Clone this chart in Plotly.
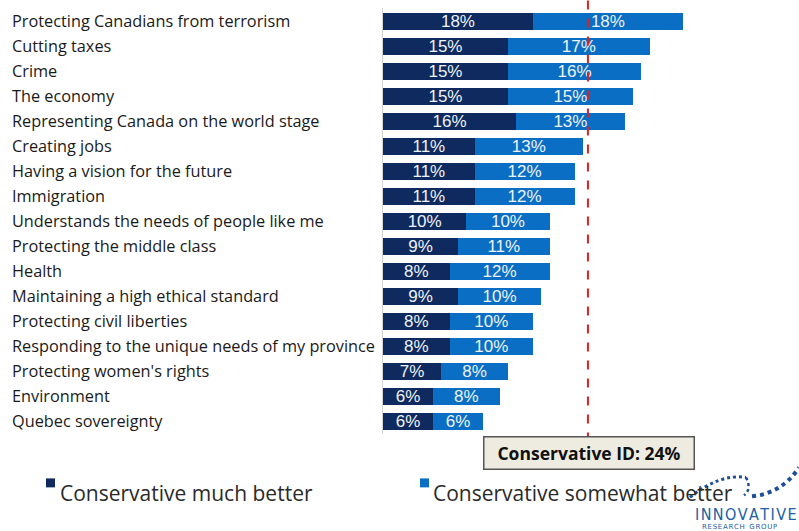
import plotly.graph_objects as go

categories = [
    "Protecting Canadians from terrorism",
    "Cutting taxes",
    "Crime",
    "The economy",
    "Representing Canada on the world stage",
    "Creating jobs",
    "Having a vision for the future",
    "Immigration",
    "Understands the needs of people like me",
    "Protecting the middle class",
    "Health",
    "Maintaining a high ethical standard",
    "Protecting civil liberties",
    "Responding to the unique needs of my province",
    "Protecting women's rights",
    "Environment",
    "Quebec sovereignty",
]
much_better = [18, 15, 15, 15, 16, 11, 11, 11, 10, 9, 8, 9, 8, 8, 7, 6, 6]
somewhat_better = [18, 17, 16, 15, 13, 13, 12, 12, 10, 11, 12, 10, 10, 10, 8, 8, 6]
series_names = ["Conservative much better", "Conservative somewhat better"]
conservative_id = 24
id_line_x = 24.6

DARK = "#0f2a5e"
LIGHT = "#0a6fc4"

W, H = 799, 531
ML, MR, MT, MB = 383, 0, 7.5, 96.5
plot_w = W - ML - MR
plot_h = H - MT - MB


def px_x(px):
    return (px - ML) / plot_w


def px_y(py):
    return (H - MB - py) / plot_h


fig = go.Figure()
for name, vals, col in [(series_names[0], much_better, DARK), (series_names[1], somewhat_better, LIGHT)]:
    fig.add_trace(go.Bar(
        y=categories, x=vals, orientation="h", name=name,
        marker=dict(color=col, line=dict(width=0)),
        texttemplate="%{x}%", textposition="inside", insidetextanchor="middle",
        constraintext="none",
        textfont=dict(color="#eef3f8", size=17, family="Liberation Sans"),
        showlegend=False,
    ))

fig.update_layout(
    width=W, height=H, barmode="stack", bargap=0.32,
    margin=dict(l=ML, r=MR, t=MT, b=MB),
    plot_bgcolor="white", paper_bgcolor="white",
    xaxis=dict(range=[0, plot_w / 8.33], visible=False),
    yaxis=dict(autorange="reversed", showticklabels=False, showline=True,
               linecolor="#d4d4d4", linewidth=1, showgrid=False, ticks=""),
    font=dict(family="Open Sans", color="#1a1a1a"),
)

annotations = []
for c in categories:
    annotations.append(dict(
        x=px_x(10), xref="paper", y=c, yref="y", text=c, showarrow=False,
        xanchor="left", yanchor="middle", font=dict(size=16.3, color="#1a1a1a", family="Open Sans"),
    ))

# dashed reference line
fig.add_shape(type="line", xref="x", yref="paper", x0=id_line_x, x1=id_line_x,
              y0=px_y(0), y1=px_y(437), line=dict(color="#e02020", width=2, dash="dash"))

annotations.append(dict(
    x=px_x(589), xref="paper", y=px_y(453.5), yref="paper",
    text="<b>Conservative ID: %d%%</b>" % conservative_id, showarrow=False,
    xanchor="center", yanchor="middle", bgcolor="#eeebe0", bordercolor="#555555",
    borderwidth=1.5, borderpad=5, width=199, height=21,
    font=dict(size=17.5, color="#111111", family="Open Sans"),
))

# legend
leg = [(series_names[0], DARK, 46, 58), (series_names[1], LIGHT, 420, 431)]
for name, col, sx, tx in leg:
    fig.add_shape(type="rect", xref="paper", yref="paper",
                  x0=px_x(sx), x1=px_x(sx + 9), y0=px_y(479), y1=px_y(488),
                  fillcolor=col, line=dict(width=0))
    annotations.append(dict(
        x=px_x(tx), xref="paper", y=px_y(493), yref="paper", text=name, showarrow=False,
        xanchor="left", yanchor="middle", height=21,
        font=dict(size=21, color="#2a2a2a", family="Open Sans"),
    ))

# logo
hs = "\u200a"
annotations.append(dict(
    x=px_x(693), xref="paper", y=px_y(515), yref="paper",
    text=hs.join("INNOVATIVE"), showarrow=False, xanchor="left", yanchor="middle", height=13,
    font=dict(size=16, color="#2060a8", family="DejaVu Sans Condensed"),
))
annotations.append(dict(
    x=px_x(700), xref="paper", y=px_y(527.5), yref="paper",
    text=hs.join("RESEARCH") + "  " + hs.join("GROUP"), showarrow=False, xanchor="left",
    yanchor="middle", height=7,
    font=dict(size=7, color="#2060a8", family="DejaVu Sans"),
))


def pth(pts):
    s = "M %f,%f" % (px_x(pts[0][0]), px_y(pts[0][1]))
    s += " Q %f,%f %f,%f" % (px_x(pts[1][0]), px_y(pts[1][1]), px_x(pts[2][0]), px_y(pts[2][1]))
    return s


fig.add_shape(type="path", xref="paper", yref="paper",
              path=pth([(690, 498), (720, 474), (746, 478)]),
              line=dict(color="#1f4f96", width=3, dash="dot"))
fig.add_shape(type="path", xref="paper", yref="paper",
              path=pth([(746, 478), (752, 490), (744, 496)]),
              line=dict(color="#1f4f96", width=2.5, dash="dot"))
fig.add_shape(type="path", xref="paper", yref="paper",
              path=pth([(752, 497), (782, 494), (799, 468)]),
              line=dict(color="#1f4f96", width=4, dash="dot"))

fig.update_layout(annotations=annotations)
fig.write_html("out.html")
